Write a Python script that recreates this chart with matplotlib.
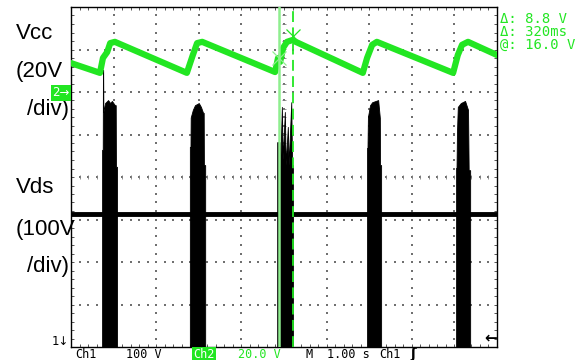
import numpy as np
import matplotlib.pyplot as plt

# scope settings: 1.00 s/div, Ch1 (Vds) 100 V/div, Ch2 (Vcc) 20 V/div
ch2_gnd_div = 5.95   # "2->" marker position on screen (div from bottom)

# Vcc trace (Ch2), time in s, voltage in V
vcc_t = [0.00, 0.68, 0.75, 0.85, 0.92, 1.03, 2.72, 2.86, 2.96, 3.08, 4.79, 4.86, 4.91,
         4.98, 5.07, 5.19, 6.85, 6.95, 7.07, 7.18, 8.97, 9.08, 9.18, 9.32, 10.00]
vcc_v = [14.6, 10.0, 17.0, 19.8, 24.0, 24.6, 10.0, 18.4, 24.0, 24.6, 10.4, 17.0, 15.2,
         21.8, 24.6, 25.4, 10.0, 17.0, 23.2, 24.6, 10.0, 18.4, 23.2, 24.6, 18.4]

# Vds (Ch1): bus level between bursts and the top envelope of each switching burst
vds_bus = 313
bursts = [
    ([0.73, 0.745, 0.75, 0.755, 0.76, 0.80, 0.87, 0.92, 0.96, 1.03, 1.05, 1.055, 1.08],
     [464, 464, 652, 652, 553, 574, 581, 574, 579, 569, 569, 424, 424]),
    ([2.79, 2.805, 2.81, 2.86, 2.91, 3.00, 3.05, 3.10, 3.115, 3.12, 3.15],
     [471, 471, 540, 558, 569, 574, 565, 551, 551, 428, 428]),
    ([4.84, 4.90, 4.91, 4.95, 4.97, 5.02, 5.04, 5.09, 5.11, 5.17, 5.19, 5.21],
     [482, 482, 424, 565, 440, 553, 428, 518, 428, 576, 428, 428]),
    ([6.95, 6.96, 6.97, 7.02, 7.07, 7.21, 7.25, 7.255, 7.28],
     [468, 468, 541, 569, 576, 581, 539, 428, 428]),
    ([9.04, 9.05, 9.06, 9.08, 9.15, 9.25, 9.32, 9.335, 9.37],
     [421, 421, 504, 565, 574, 579, 558, 416, 416]),
]

# cursors
cur1_t, cur1_v = 4.88, 16.8
cur2_t, cur2_v = 5.22, 27.4
readout = ["\u0394: 8.8 V", "\u0394: 320ms", "@: 16.0 V"]

green = "#22e622"
W, H = 575, 360

fig = plt.figure(figsize=(W / 100, H / 100), dpi=100)
ax = fig.add_axes([71 / W, 1 - 347 / H, 426 / W, 340 / H])
ax.set_xlim(0, 10)
ax.set_ylim(0, 8)

# graticule: dots every 1/5 div along each division line
dots = np.arange(0.2, 10, 0.2)
vdots = dots[dots < 8]
for i in range(1, 10):
    ax.scatter(np.full(len(vdots), i), vdots, s=1.2, marker="s",
               color="#707070", linewidths=0, zorder=1)
for j in range(1, 8):
    ax.scatter(dots, np.full(len(dots), j), s=1.2, marker="s",
               color="#707070", linewidths=0, zorder=1)
# centre line ticks
ax.plot(np.full(len(vdots), 5), vdots, ls="none", marker="_",
        ms=2.5, mew=0.6, color="#808080", zorder=1)
ax.plot(dots, np.full(len(dots), 4), ls="none", marker="|",
        ms=2.5, mew=0.6, color="#808080", zorder=1)

ax.set_xticks(np.arange(0, 10.01, 0.2))
ax.set_yticks(np.arange(0, 8.01, 0.2))
ax.tick_params(direction="in", length=2.5, width=0.7, color="#555555",
               top=True, right=True, labelbottom=False, labelleft=False)
for s in ax.spines.values():
    s.set_linewidth(1.0)
    s.set_color("black")

# Ch1 - Vds (screen div = V / 100)
ax.axhline(vds_bus / 100, color="black", lw=3.5, zorder=2)
for bt, btop in bursts:
    ax.fill_between(bt, np.array(btop) / 100, -1, color="black", lw=0.6, zorder=3)

# Ch2 - Vcc
vcc_div = np.array(vcc_v) / 20 + ch2_gnd_div
ax.plot(vcc_t, vcc_div, color=green, lw=4.5, solid_joinstyle="round", zorder=4)

# cursors
ax.axvline(cur1_t, color="#8fee8f", lw=1.8, zorder=5)
ax.axvline(cur2_t, color=green, lw=1.3, dashes=(6, 3), zorder=5)
ax.plot(cur1_t, cur1_v / 20 + ch2_gnd_div, marker="x", ms=10, mew=0.9,
        color="#8fee8f", zorder=6)
ax.plot(cur2_t, cur2_v / 20 + ch2_gnd_div, marker="x", ms=10, mew=0.9,
        color=green, zorder=6)


def px(x, y):
    return x / W, 1 - y / H


# channel labels on the left
lab = dict(fontsize=16, family="Liberation Sans", color="black", va="baseline")
fig.text(*px(16, 39), "Vcc", **lab)
fig.text(*px(16, 77), "(20V", **lab)
fig.text(*px(27, 115), "/div)", **lab)
fig.text(*px(16, 193), "Vds", **lab)
fig.text(*px(16, 235), "(100V", **lab)
fig.text(*px(27, 272), "/div)", **lab)

# cursor readout
for k, line in enumerate(readout):
    fig.text(*px(500, 23 + 12.8 * k), line, fontsize=10, family="DejaVu Sans Mono",
             color=green, va="baseline")

# channel markers
fig.text(*px(61, 93), "2\u2192", fontsize=8.5, family="DejaVu Sans", color="white",
         ha="center", va="center",
         bbox=dict(boxstyle="square,pad=0.12", fc=green, ec="none"))
fig.text(*px(60, 345), "1\u2193", fontsize=8.5, family="DejaVu Sans", color="black",
         ha="center", va="baseline")
fig.text(*px(497, 342), "\u2190", fontsize=11, family="DejaVu Sans", weight="bold",
         color="black", ha="right", va="baseline")

# status bar
st = dict(fontsize=8.5, family="DejaVu Sans Mono", va="baseline")
fig.text(*px(75, 358), "Ch1", color="black", **st)
fig.text(*px(126, 358), "100 V", color="black", **st)
fig.text(*px(193, 358), "Ch2", color="white",
         bbox=dict(boxstyle="square,pad=0.1", fc=green, ec="none"), **st)
fig.text(*px(238, 358), "20.0 V", color=green, **st)
fig.text(*px(305, 358), "M", color="black", **st)
fig.text(*px(327, 358), "1.00 s", color="black", **st)
fig.text(*px(379, 358), "Ch1", color="black", **st)
fig.text(*px(410, 358), "\u0283", color="black", fontsize=10, family="DejaVu Sans",
         va="baseline", weight="bold")

fig.savefig("out.png", dpi=100, facecolor="white")
